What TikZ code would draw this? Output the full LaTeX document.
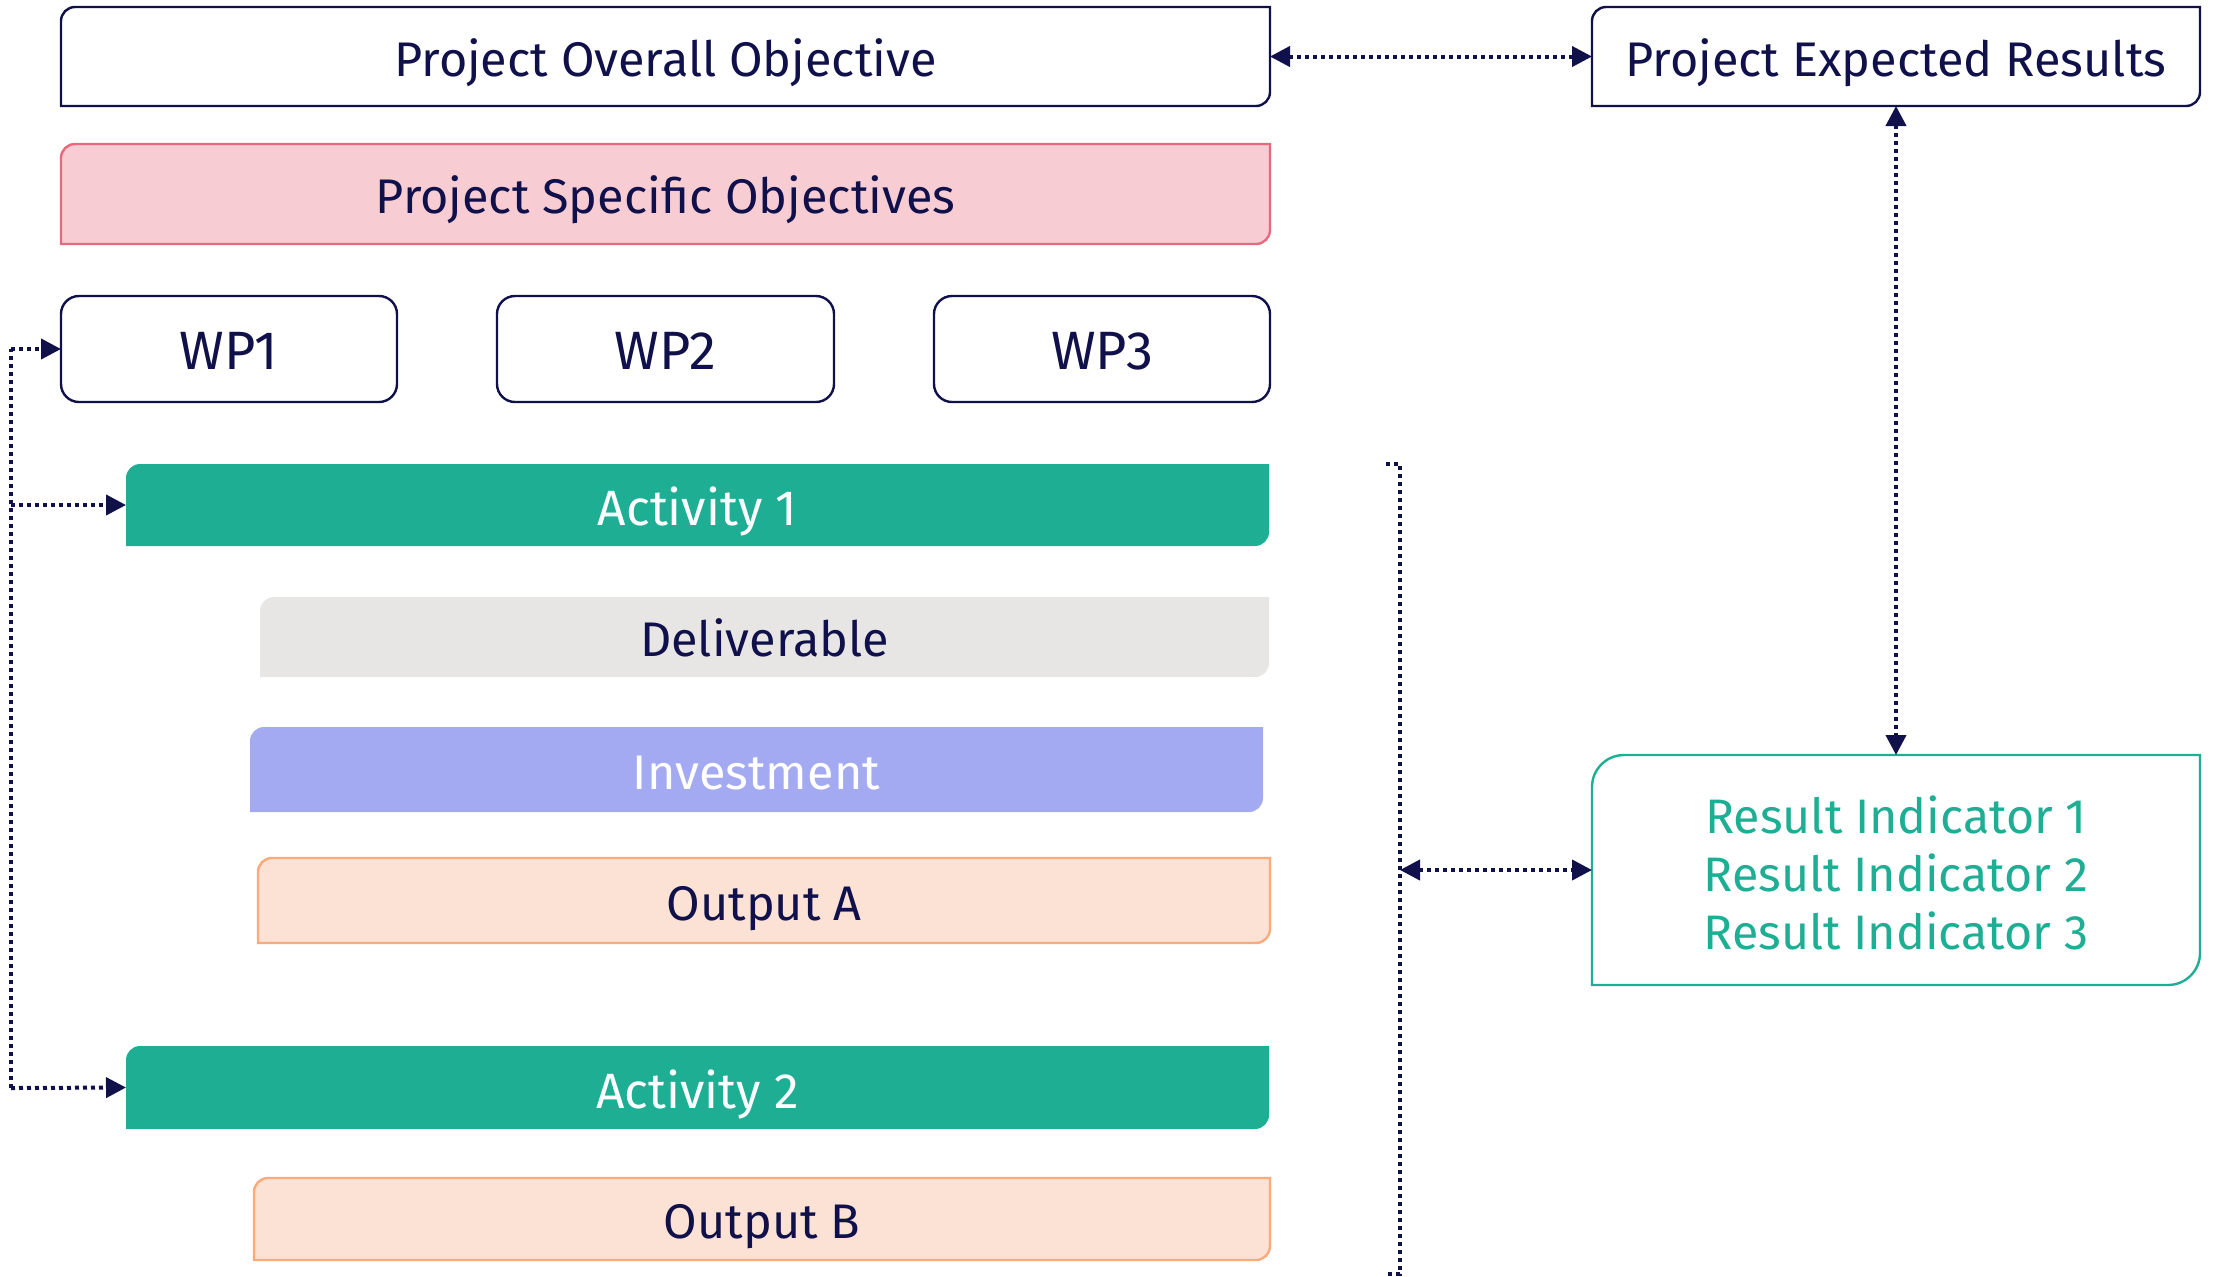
\documentclass[tikz,border=0pt]{standalone}
\usepackage{fontspec}
\setmainfont{Fira Sans}
\usetikzlibrary{arrows.meta}
\pgfdeclarelayer{bg}
\pgfsetlayers{bg,main}
\definecolor{navy}{HTML}{10104B}
\definecolor{pinkfill}{HTML}{F7CCD3}
\definecolor{pinkline}{HTML}{E8697E}
\definecolor{teal}{HTML}{1EAE94}
\definecolor{greyfill}{HTML}{E7E6E4}
\definecolor{lav}{HTML}{A3AAF1}
\definecolor{peachfill}{HTML}{FCE2D5}
\definecolor{peachline}{HTML}{FBAA7A}
\newcommand\cornerbox[4]{%
  \begin{pgfonlayer}{bg}
  \path[#4] (#1.south west) -- ([yshift=-#2]#1.north west) arc[start angle=180,end angle=90,radius=#2] -- (#1.north east) -- ([yshift=#3]#1.south east) arc[start angle=0,end angle=-90,radius=#3] -- cycle;
  \end{pgfonlayer}}
\tikzset{
  sz/.style 2 args={minimum width={#1*0.5pt}, minimum height={#2*0.5pt}},
  lbl/.style={rectangle, inner sep=0pt, outer sep=0pt, text=navy, text height=19.6pt, text depth=0pt, font=\fontsize{24.3}{28}\selectfont},
  whitelbl/.style={lbl, text=white},
  actlbl/.style={whitelbl, text height=20.6pt, font=\fontsize{24.8}{28}\selectfont},
  outlinebox/.style={draw=navy, line width=1.2pt, fill=white},
  wpbox/.style={lbl, draw=navy, line width=1.2pt, rounded corners=9pt, text height=20.6pt, font=\fontsize{27}{31}\selectfont},
  conn/.style={draw=navy, line width=2pt, dash pattern=on 2pt off 2pt, >={Triangle[length=10pt,width=10pt]}},
}
\begin{document}
\begin{tikzpicture}[x=0.5pt,y=-0.5pt]
\useasboundingbox (0,0) rectangle (2213,1276);
% top row
\node[lbl, sz={1209}{99}] (obj) at (665.5,56.5) {Project Overall Objective};
\cornerbox{obj}{7pt}{7pt}{outlinebox}
\node[lbl, sz={608}{99}] (res) at (1896,56.5) {Project Expected Results};
\cornerbox{res}{7pt}{7pt}{outlinebox}
\node[lbl, sz={1209}{100}] (spec) at (665.5,194) {Project Specific Objectives};
\cornerbox{spec}{7pt}{7pt}{fill=pinkfill, draw=pinkline, line width=1.2pt}
% work packages
\node[wpbox, sz={336}{106}] (wp1) at (229,349) {WP1};
\node[wpbox, sz={337}{106}] (wp2) at (665.5,349) {WP2};
\node[wpbox, sz={336}{106}] (wp3) at (1102,349) {WP3};
% activities etc.
\node[actlbl, sz={1143}{82}] (act1) at (697.5,505) {Activity 1};
\cornerbox{act1}{7pt}{7pt}{fill=teal}
\node[lbl, sz={1009}{80}] (deliv) at (764.5,637) {Deliverable};
\cornerbox{deliv}{7pt}{7pt}{fill=greyfill}
\node[whitelbl, sz={1013}{85}] (inv) at (756.5,769.5) {Investment};
\cornerbox{inv}{7pt}{7pt}{fill=lav}
\node[lbl, sz={1012}{85}] (outa) at (764,900.5) {Output A};
\cornerbox{outa}{7pt}{7pt}{fill=peachfill, draw=peachline, line width=1.2pt}
\node[actlbl, sz={1143}{83}] (act2) at (697.5,1087.5) {Activity 2};
\cornerbox{act2}{7pt}{7pt}{fill=teal}
\node[lbl, sz={1016}{82}] (outb) at (762,1219) {Output B};
\cornerbox{outb}{7pt}{7pt}{fill=peachfill, draw=peachline, line width=1.2pt}
% result indicators
\node[rectangle, inner sep=0pt, outer sep=0pt, sz={608}{230}, text=teal, align=center, font=\fontsize{24.2}{29}\selectfont] (ri) at (1896,870) {\raisebox{-1.5pt}[\height][\depth]{\parbox{300pt}{\centering Result Indicator 1\\Result Indicator 2\\Result Indicator 3}}};
\cornerbox{ri}{16pt}{16pt}{draw=teal, line width=1.2pt, fill=white}
% connectors
\coordinate (lt) at (11,349);
\coordinate (lb) at (11,1088);
\coordinate (bt1) at (1386,464);
\coordinate (bt2) at (1400,464);
\coordinate (bb2) at (1400,1274);
\coordinate (bb1) at (1386,1274);
\draw[conn,<->] (obj.east) -- (res.west);
\draw[conn,<->] (res.south) -- (ri.north);
\draw[conn] (lb) -- (lt);
\draw[conn,->] (lt) -- (wp1.west);
\draw[conn,->] (lt |- act1.west) -- (act1.west);
\draw[conn,->] (lb) -- (act2.west);
\draw[conn] (bt1) -- (bt2) -- (bb2) -- (bb1);
\draw[conn,<->] (bt2 |- ri.west) -- (ri.west);
\end{tikzpicture}
\end{document}
